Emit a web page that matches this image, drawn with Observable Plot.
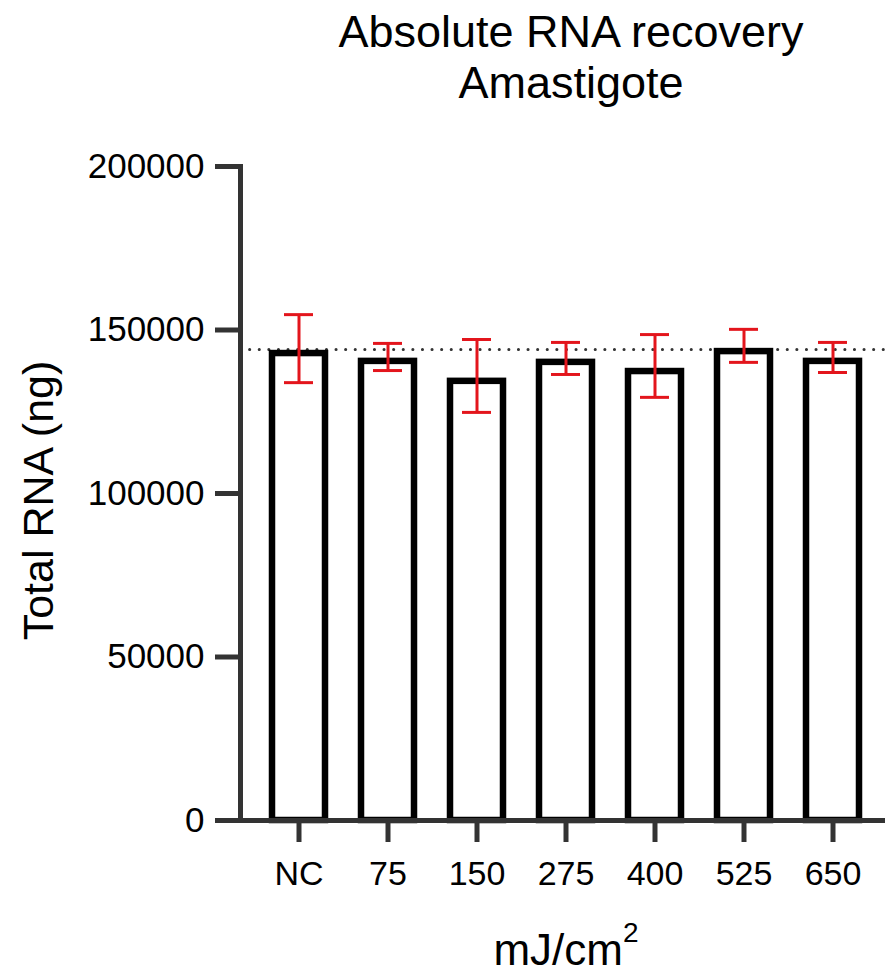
<!DOCTYPE html>
<html><head><meta charset="utf-8">
<script src="https://cdn.jsdelivr.net/npm/d3@7"></script>
<script src="https://cdn.jsdelivr.net/npm/@observablehq/plot@0.6"></script>
<style>
body{margin:0;background:#fff;font-family:"Liberation Sans",Arial,sans-serif;}
#wrap{position:relative;width:885px;height:975px;overflow:hidden;background:#fff}
#title{position:absolute;left:253px;width:636px;top:6px;text-align:center;font-size:45px;line-height:51px;color:#000;white-space:nowrap}
#chart{position:absolute;left:0;top:120px}
#xlabel{position:absolute;left:240px;width:652px;top:928px;text-align:center;font-size:44px;line-height:44px;color:#000;white-space:nowrap}
#xlabel sup{font-size:28px;line-height:0;vertical-align:23px}
#ylabel{position:absolute;left:-162px;top:478.5px;width:400px;height:43px;line-height:43px;text-align:center;font-size:43px;color:#000;transform:rotate(-90deg);transform-origin:50% 50%;white-space:nowrap}
</style></head>
<body>
<div id="wrap">
  <div id="title">Absolute RNA recovery<br>Amastigote</div>
  <div id="chart"></div>
  <div id="ylabel"></div>
  <div id="xlabel">mJ/cm<sup>2</sup></div>
</div>
<script>
const categories = ["NC","75","150","275","400","525","650"];
const means   = [142800,140400,134300,140100,137300,143400,140400];
const errLow  = [133900,137600,124800,136400,129400,140100,137000];
const errHigh = [154700,145900,147100,146200,148600,150200,146200];
const refLine = 144000;
const yTicks = [0,50000,100000,150000,200000];
const yLabel = "Total RNA (ng)";

document.getElementById("ylabel").textContent = yLabel;

const data = categories.map((c,i)=>({c, m:means[i], lo:errLow[i], hi:errHigh[i]}));
const red = "#e3151c";
const axisColor = "#333";

const chart = Plot.plot({
  width:885, height:790, marginLeft:240, marginRight:0, marginTop:46, marginBottom:90,
  style:{fontFamily:"'Liberation Sans', Arial, sans-serif", color:"#000", background:"#fff", overflow:"visible"},
  x:{domain:categories, paddingInner:0.4, paddingOuter:0.32, align:0.56, label:null},
  y:{domain:[0,200000], label:null},
  marks:[
    Plot.ruleY([refLine],{stroke:axisColor, strokeWidth:3, strokeDasharray:"0.1,9.5", strokeLinecap:"round"}),
    Plot.barY(data,{x:"c", y:"m", fill:"white", stroke:"black", strokeWidth:6.5}),
    Plot.ruleX(data,{x:"c", y1:"lo", y2:"hi", stroke:red, strokeWidth:3}),
    Plot.tickY(data,{x:"c", y:"lo", stroke:red, strokeWidth:3, insetLeft:12, insetRight:12}),
    Plot.tickY(data,{x:"c", y:"hi", stroke:red, strokeWidth:3, insetLeft:12, insetRight:12}),
    Plot.axisY({ticks:yTicks, tickFormat:d=>String(d), tickSize:25, tickPadding:11, fontSize:35, stroke:axisColor, strokeWidth:5, label:null}),
    Plot.axisX({tickSize:22, tickPadding:18, fontSize:34, stroke:axisColor, strokeWidth:5, label:null}),
    Plot.ruleY([0],{stroke:axisColor, strokeWidth:5}),
    Plot.frame({anchor:"left", stroke:axisColor, strokeWidth:5})
  ]
});
document.getElementById("chart").appendChild(chart);
</script>
</body></html>
